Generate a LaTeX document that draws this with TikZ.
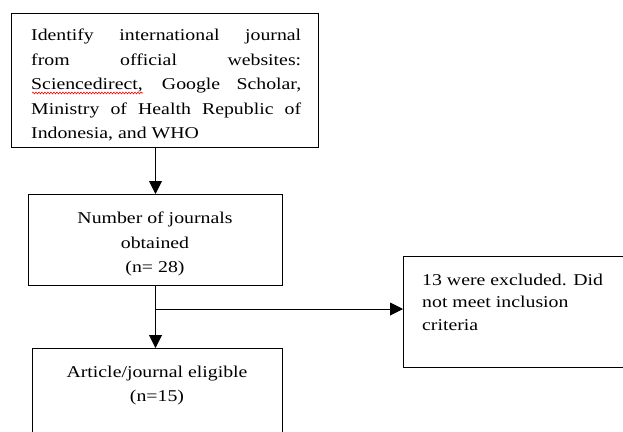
\documentclass[tikz,border=0pt]{standalone}
\usepackage{fontspec}
\setmainfont{Liberation Serif}[FakeStretch=1.2]
\usetikzlibrary{arrows.meta,decorations.pathmorphing}
\begin{document}
\begin{tikzpicture}[x=1pt,y=-1pt,
  box/.style={draw, line width=1pt, inner sep=0pt},
  txt/.style={font=\fontsize{16.5}{24.5}\selectfont, inner sep=0pt},
  arr/.style={line width=1pt, -{Triangle[width=13pt,length=13pt]}}]
\useasboundingbox (0,0) rectangle (623,431);
\clip (0,0) rectangle (623,431);
% boxes
\node[box, anchor=north west, minimum width=307pt, minimum height=134pt] (b1) at (11,13) {};
\node[box, anchor=north west, minimum width=254pt, minimum height=91pt] (b2) at (28,194) {};
\node[box, anchor=north west, minimum width=250pt, minimum height=110pt] (b3) at (32,348) {};
\node[box, anchor=north west, minimum width=260pt, minimum height=111pt] (b4) at (403,256) {};
% texts
\node[txt, anchor=north west, text width=270pt, align=justify] (t1) at (31,28.7)
  {Identify international journal\linebreak from official websites:\linebreak Sciencedirect, Google Scholar,\linebreak Ministry of Health Republic of\linebreak Indonesia, and WHO};
\draw[red, line width=0.6pt, decorate, decoration={snake, amplitude=0.9pt, segment length=3pt}] (32,93) -- (143,93);
\node[txt, align=center, anchor=north] (t2) at (155,211.7) {Number of journals\\obtained\\(n= 28)};
\node[txt, align=center, anchor=north] (t3) at (157,365.5) {Article/journal eligible\\(n=15)};
\node[txt, font=\fontsize{16.5}{22.5}\selectfont, align=left, anchor=north west] (t4) at (422,273.7)
  {13 were excluded. Did\\not meet inclusion\\criteria};
% connectors
\draw[arr] (b2.north |- b1.south) -- (b2.north);
\draw[arr] (b2.south) -- (b2.south |- b3.north);
\path (b2.south) ++(0,23) coordinate (j);
\draw[arr] (j) -- (j -| b4.west);
\end{tikzpicture}
\end{document}
